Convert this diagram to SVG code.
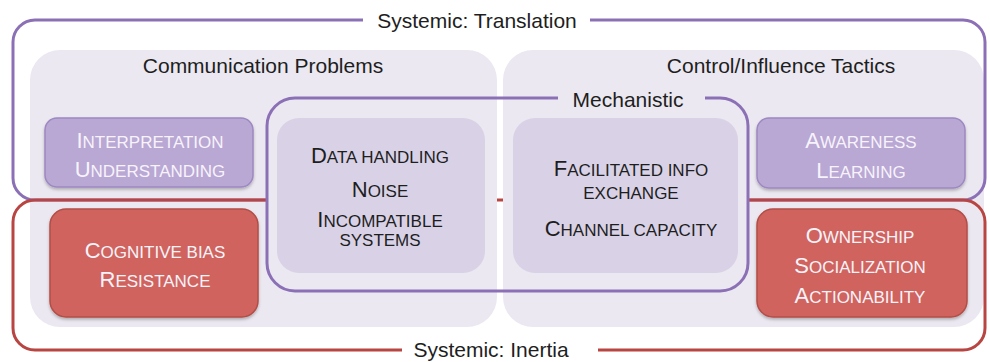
<svg xmlns="http://www.w3.org/2000/svg" width="990" height="362" viewBox="0 0 990 362">
<style>
text{font-family:"Liberation Sans",Arial,sans-serif;fill:#1e1e1e;text-anchor:middle}
.lbl{font-size:21px}
.b{font-size:22px}
.s{font-size:17px}
.w{fill:#f7f3fb}
.panel{fill:#ebe8f1}
.light{fill:#d9d2e7}
.pbox{fill:#b9a7d4;stroke:#9d88c2;stroke-width:1.5}
.rbox{fill:#d0645d;stroke:#b24d47;stroke-width:1.5}
.pline{fill:none;stroke:#8c70b6;stroke-width:3}
.rline{fill:none;stroke:#b84541;stroke-width:3}
</style>
<defs>
<filter id="sh" x="-10%" y="-10%" width="120%" height="130%">
<feDropShadow dx="0" dy="2" stdDeviation="1.5" flood-color="#000" flood-opacity="0.25"/>
</filter>
</defs>
<rect width="990" height="362" fill="#ffffff"/>
<g id="panel-communication">
<rect class="panel" x="30" y="50" width="467" height="277" rx="30"/>
<text class="lbl" x="263" y="73">Communication Problems</text>
</g>
<g id="panel-control">
<rect class="panel" x="503" y="50" width="481" height="277" rx="30"/>
<text class="lbl" x="781" y="73">Control/Influence Tactics</text>
</g>
<g id="connectors">
<path id="systemic-translation-line" class="pline" d="M363,20 H35 A22,22 0 0 0 13,42 V178 A22,22 0 0 0 35,200 H963 A22,22 0 0 0 985,178 V42 A22,22 0 0 0 963,20 H590"/>
<path id="systemic-inertia-line" class="rline" d="M402,350 H35 A22,22 0 0 1 13,328 V222 A22,22 0 0 1 35,200 H963 A22,22 0 0 1 985,222 V328 A22,22 0 0 1 963,350 H598"/>
</g>
<g id="systemic-translation">
<text class="lbl" x="477" y="28">Systemic: Translation</text>
</g>
<g id="systemic-inertia">
<text class="lbl" x="491" y="357">Systemic: Inertia</text>
</g>
<g id="mechanistic">
<rect class="panel" x="267" y="98" width="481" height="193" rx="28"/>
<rect x="497" y="98" width="6" height="193" fill="#ffffff"/>
<line x1="497" y1="200" x2="503" y2="200" stroke="#b84541" stroke-width="3"/>
<path class="pline" d="M558,98 H295 A28,28 0 0 0 267,126 V263 A28,28 0 0 0 295,291 H720 A28,28 0 0 0 748,263 V126 A28,28 0 0 0 720,98 H705"/>
<text class="lbl" x="628" y="107">Mechanistic</text>
</g>
<g id="box-data">
<rect class="light" x="277" y="118" width="208" height="155" rx="22"/>
<text x="380" y="163"><tspan class="b">D</tspan><tspan class="s">ATA HANDLING</tspan></text>
<text x="380" y="197"><tspan class="b">N</tspan><tspan class="s">OISE</tspan></text>
<text x="380" y="227"><tspan class="b">I</tspan><tspan class="s">NCOMPATIBLE</tspan></text>
<text x="380" y="246"><tspan class="s">SYSTEMS</tspan></text>
</g>
<g id="box-facilitated">
<rect class="light" x="513" y="118" width="225" height="155" rx="22"/>
<text x="631" y="176"><tspan class="b">F</tspan><tspan class="s">ACILITATED INFO</tspan></text>
<text x="631" y="199"><tspan class="s">EXCHANGE</tspan></text>
<text x="631" y="236"><tspan class="b">C</tspan><tspan class="s">HANNEL CAPACITY</tspan></text>
</g>
<g id="box-interpretation">
<rect class="pbox" x="45" y="118" width="208" height="69" rx="12" filter="url(#sh)"/>
<text class="w" x="150" y="148"><tspan class="b w">I</tspan><tspan class="s w">NTERPRETATION</tspan></text>
<text class="w" x="150" y="177"><tspan class="b w">U</tspan><tspan class="s w">NDERSTANDING</tspan></text>
</g>
<g id="box-awareness">
<rect class="pbox" x="757" y="118" width="208" height="70" rx="12" filter="url(#sh)"/>
<text class="w" x="861" y="148"><tspan class="b w">A</tspan><tspan class="s w">WARENESS</tspan></text>
<text class="w" x="861" y="178"><tspan class="b w">L</tspan><tspan class="s w">EARNING</tspan></text>
</g>
<g id="box-cognitive">
<rect class="rbox" x="50" y="209" width="208" height="108" rx="16" filter="url(#sh)"/>
<text class="w" x="155" y="258"><tspan class="b w">C</tspan><tspan class="s w">OGNITIVE BIAS</tspan></text>
<text class="w" x="155" y="287"><tspan class="b w">R</tspan><tspan class="s w">ESISTANCE</tspan></text>
</g>
<g id="box-ownership">
<rect class="rbox" x="757" y="209" width="210" height="108" rx="16" filter="url(#sh)"/>
<text class="w" x="860" y="243"><tspan class="b w">O</tspan><tspan class="s w">WNERSHIP</tspan></text>
<text class="w" x="860" y="273"><tspan class="b w">S</tspan><tspan class="s w">OCIALIZATION</tspan></text>
<text class="w" x="860" y="303"><tspan class="b w">A</tspan><tspan class="s w">CTIONABILITY</tspan></text>
</g>
</svg>
